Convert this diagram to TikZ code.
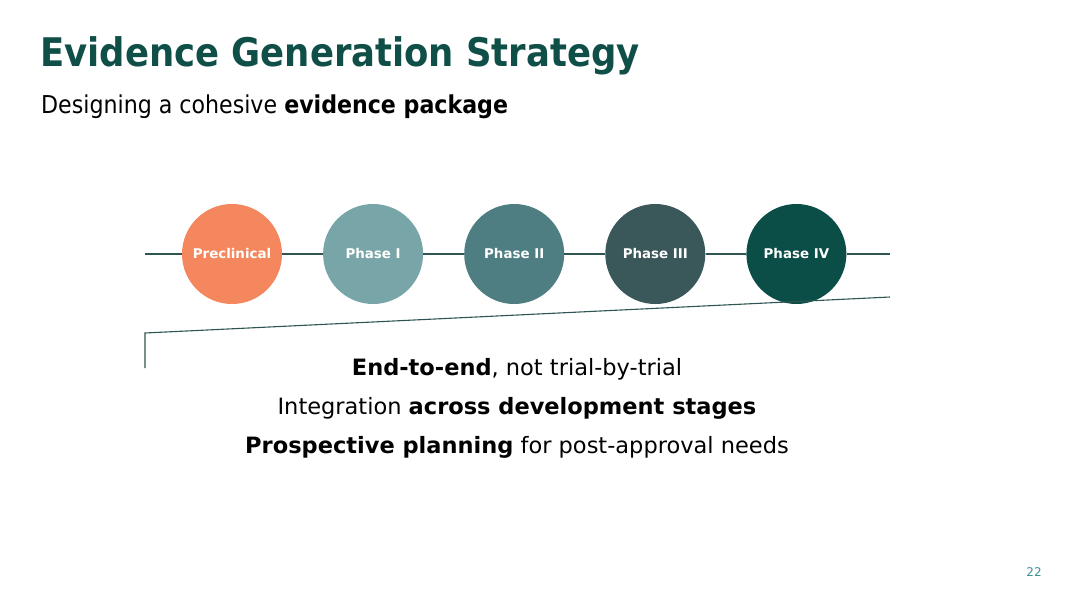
\documentclass[tikz,border=0pt]{standalone}
\usepackage{fontspec}
\setmainfont{DejaVu Sans}
\newfontfamily\condfont{DejaVu Sans Condensed}
\usepackage{xcolor}
\usetikzlibrary{positioning}

\definecolor{titleteal}{HTML}{0F4F48}
\definecolor{precol}{HTML}{F5875E}
\definecolor{onecol}{HTML}{78A6A8}
\definecolor{twocol}{HTML}{4F7E82}
\definecolor{threecol}{HTML}{3A5759}
\definecolor{fourcol}{HTML}{0B4D47}
\definecolor{linecol}{HTML}{2E5552}
\definecolor{pagecol}{HTML}{3E9295}

\tikzset{
    phase/.style={circle, minimum size=100pt, inner sep=0pt, text=white,
        font=\fontsize{13.4}{15}\selectfont\bfseries},
    track/.style={draw=linecol, line width=1.1pt},
    point/.style={font=\fontsize{22.5}{25}\selectfont, anchor=base}
}

\begin{document}
\begin{tikzpicture}[x=1pt, y=-1pt, node distance=40.7pt]
    \useasboundingbox[fill=white] (0,0) rectangle (1080,608);
    % title and subtitle
    \node[anchor=base west, inner sep=0pt, text=titleteal,
        font=\condfont\fontsize{39.4}{44}\selectfont\bfseries] (title) at (40,66) {Evidence Generation Strategy};
    \node[anchor=base west, inner sep=0pt,
        font=\condfont\fontsize{24.6}{28}\selectfont] (subtitle) at (41,113) {Designing a cohesive \textbf{evidence package}};
    % phases
    \node[phase, fill=precol] (pre) at (232,254) {Preclinical};
    \node[phase, fill=onecol, right=of pre] (one) {Phase I};
    \node[phase, fill=twocol, right=of one] (two) {Phase II};
    \node[phase, fill=threecol, right=of two] (three) {Phase III};
    \node[phase, fill=fourcol, right=of three] (four) {Phase IV};
    \coordinate (lstart) at (145,254);
    \coordinate (lend) at (890,254);
    \draw[track] (lstart) -- (pre);
    \draw[track] (pre) -- (one);
    \draw[track] (one) -- (two);
    \draw[track] (two) -- (three);
    \draw[track] (three) -- (four);
    \draw[track] (four) -- (lend);
    % bracket
    \coordinate (wedgeR) at (890,297);
    \coordinate (wedgeL) at (145,333);
    \coordinate (wedgeB) at (145,368);
    \draw[track] (wedgeR) -- (wedgeL) -- (wedgeB);
    % key points
    \node[point] (p1) at (517,375) {\textbf{End-to-end}, not trial-by-trial};
    \node[point] (p2) at (517,414) {Integration \textbf{across development stages}};
    \node[point] (p3) at (517,453) {\textbf{Prospective planning} for post-approval needs};
    % page number
    \node[text=pagecol, font=\fontsize{12}{14}\selectfont] (page) at (1034,572) {22};
\end{tikzpicture}
\end{document}
